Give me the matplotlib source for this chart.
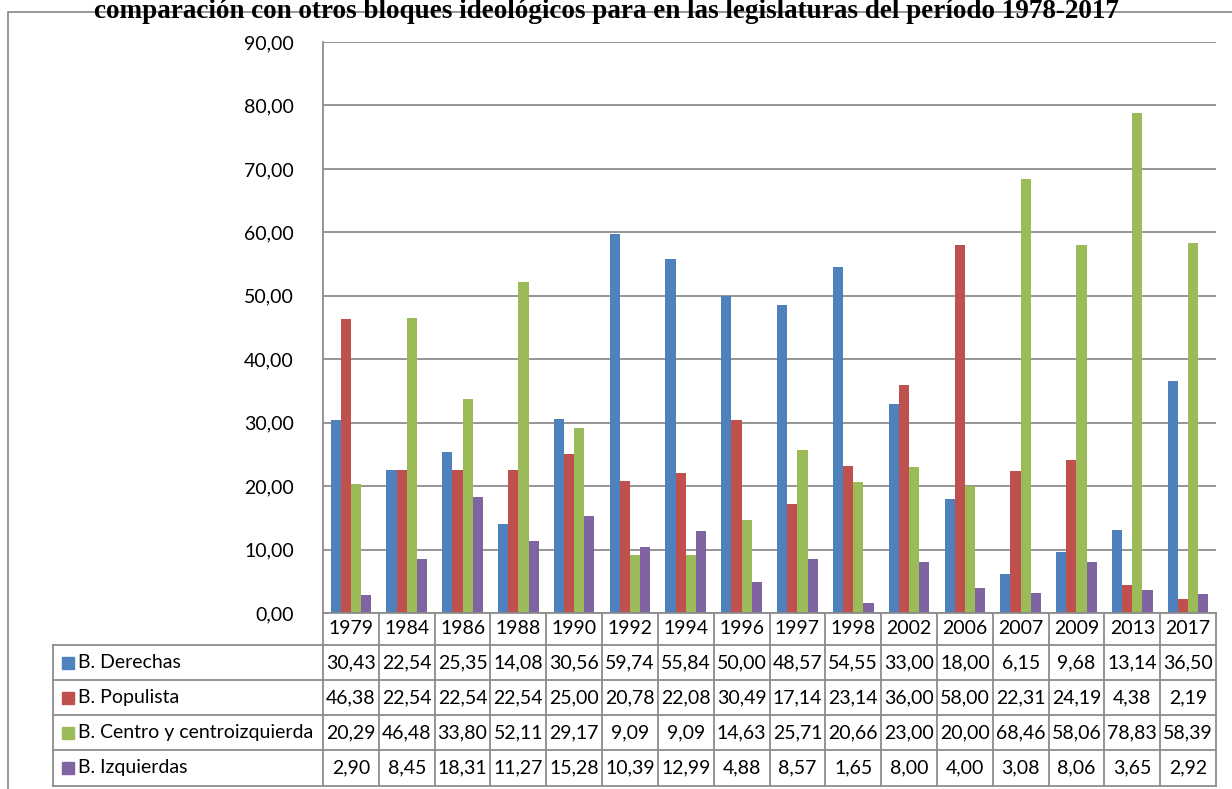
import numpy as np
import matplotlib.pyplot as plt
from matplotlib.patches import Rectangle

years = ['1979', '1984', '1986', '1988', '1990', '1992', '1994', '1996',
         '1997', '1998', '2002', '2006', '2007', '2009', '2013', '2017']
derechas = [30.43, 22.54, 25.35, 14.08, 30.56, 59.74, 55.84, 50.00,
            48.57, 54.55, 33.00, 18.00, 6.15, 9.68, 13.14, 36.50]
populista = [46.38, 22.54, 22.54, 22.54, 25.00, 20.78, 22.08, 30.49,
             17.14, 23.14, 36.00, 58.00, 22.31, 24.19, 4.38, 2.19]
centro = [20.29, 46.48, 33.80, 52.11, 29.17, 9.09, 9.09, 14.63,
          25.71, 20.66, 23.00, 20.00, 68.46, 58.06, 78.83, 58.39]
izquierdas = [2.90, 8.45, 18.31, 11.27, 15.28, 10.39, 12.99, 4.88,
              8.57, 1.65, 8.00, 4.00, 3.08, 8.06, 3.65, 2.92]
series_names = ['B. Derechas', 'B. Populista', 'B. Centro y centroizquierda', 'B. Izquierdas']
colors = ['#4F81BD', '#C0504D', '#9BBB59', '#8064A2']
title = 'comparación con otros bloques ideológicos para en las legislaturas del período 1978-2017'

series = [derechas, populista, centro, izquierdas]
W, H = 1232, 789
FONT = 'Lato'
FS = 14
grid_c = '#8C8C8C'


def px(x0, y0, x1, y1):
    return [x0 / W, 1 - y1 / H, (x1 - x0) / W, (y1 - y0) / H]


def fmt(v):
    return f'{v:.2f}'.replace('.', ',')


fig = plt.figure(figsize=(W / 100, H / 100), dpi=100)

# outer frame and title
fig.patches.append(Rectangle((8 / W, -0.1), 1.2, 1 - 12 / H + 0.1, transform=fig.transFigure,
                             fill=False, edgecolor='#878787', lw=1.2))
fig.text(606 / W, 1 - 18 / H, title, ha='center', va='baseline', fontsize=19.5,
         fontweight='bold', family='Liberation Serif')

# bars
ax = fig.add_axes(px(323, 42, 1216, 613))
x = np.arange(len(years))
w = 0.182
for i, (vals, c) in enumerate(zip(series, colors)):
    ax.bar(x + (i - 1.5) * w, vals, width=w, color=c, zorder=3)
ax.set_xlim(-0.5, len(years) - 0.5)
ax.set_ylim(0, 90)
ax.set_yticks(np.arange(0, 91, 10))
ax.set_yticklabels([fmt(v) for v in np.arange(0, 91, 10)], family=FONT, fontsize=FS)
ax.tick_params(axis='y', length=0, pad=21)
ax.set_xticks([])
ax.grid(axis='y', color=grid_c, lw=1.3, zorder=0)
for s in ['top', 'right', 'bottom']:
    ax.spines[s].set_visible(False)
ax.spines['left'].set_color(grid_c)
ax.spines['left'].set_linewidth(1.3)

# data table
unit = (1216 - 323) / len(years)
left = -0.5 - (323 - 53) / unit
tb = fig.add_axes(px(53, 613, 1216, 786))
tb.set_xlim(left, len(years) - 0.5)
tb.set_ylim(786, 613)
tb.axis('off')
rows = [613, 645, 680, 715, 750, 786]
lk = dict(color=grid_c, lw=1.3, clip_on=False)
tb.plot([-0.5, len(years) - 0.5], [rows[0], rows[0]], **lk)
for r in rows[1:]:
    tb.plot([left, len(years) - 0.5], [r, r], **lk)
for k in range(len(years) + 1):
    tb.plot([k - 0.5, k - 0.5], [rows[0], rows[-1]], **lk)
tb.plot([left, left], [rows[1], rows[-1]], **lk)

for k, yr in enumerate(years):
    tb.text(k, (rows[0] + rows[1]) / 2, yr, ha='center', va='center', family=FONT, fontsize=FS)
for j, (name, vals, c) in enumerate(zip(series_names, series, colors)):
    yc = (rows[j + 1] + rows[j + 2]) / 2
    tb.add_patch(Rectangle((left + 9 / unit, yc - 6), 12 / unit, 12, color=c))
    tb.text(left + 25 / unit, yc, name, ha='left', va='center', family=FONT, fontsize=FS)
    for k, v in enumerate(vals):
        tb.text(k, yc, fmt(v), ha='center', va='center', family=FONT, fontsize=FS)

fig.savefig('out.png', dpi=100)
